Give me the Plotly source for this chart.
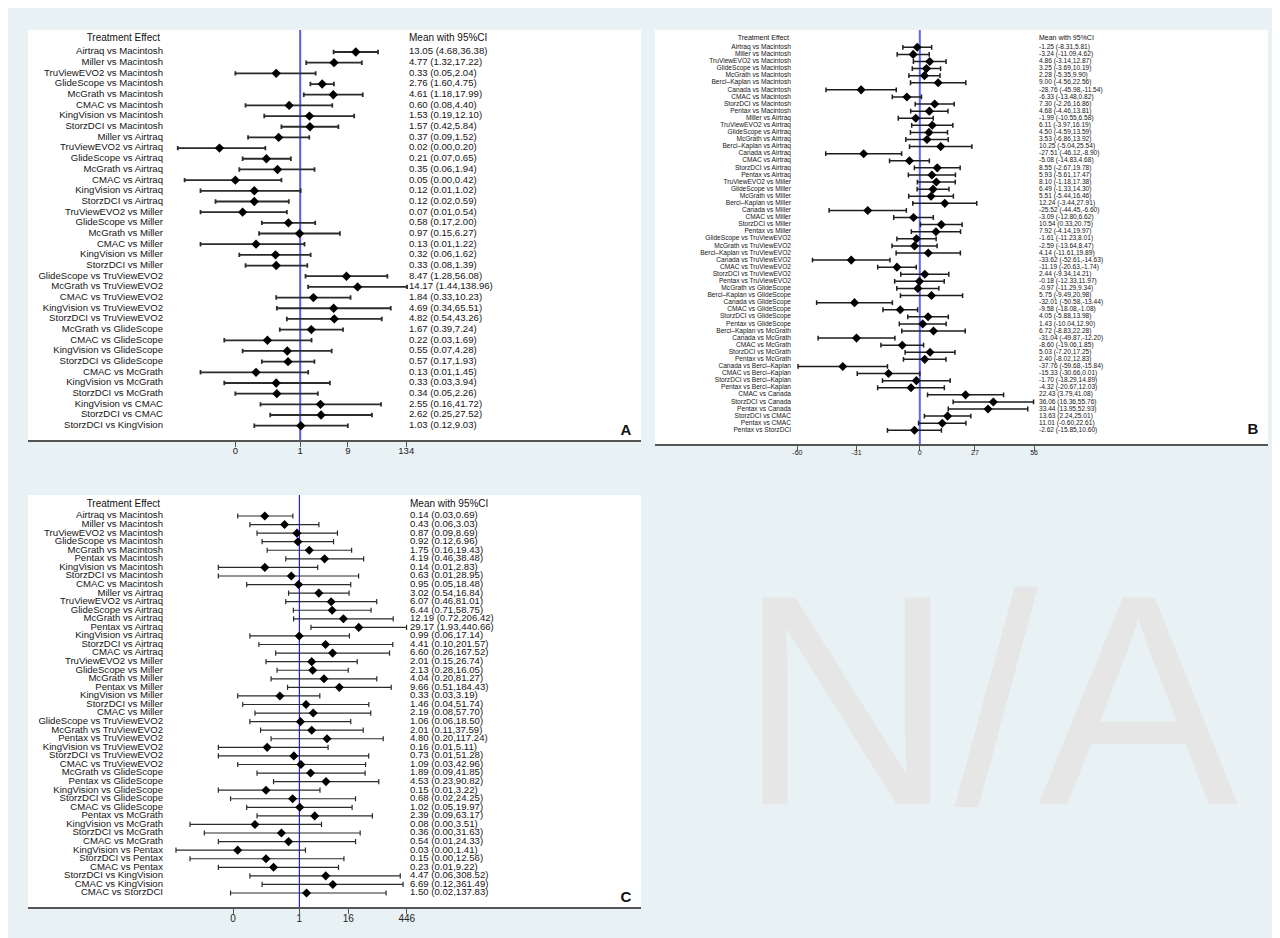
import math
import plotly.graph_objects as go

W, H = 1280, 938
BG = "#E8F1F3"
FONT = "Liberation Sans, Arial, Helvetica, sans-serif"

# ---------------- Panel A (odds ratio, log scale) ----------------
a_labels = ["Airtraq vs Macintosh", "Miller vs Macintosh", "TruViewEVO2 vs Macintosh", "GlideScope vs Macintosh",
            "McGrath vs Macintosh", "CMAC vs Macintosh", "KingVision vs Macintosh", "StorzDCI vs Macintosh",
            "Miller vs Airtraq", "TruViewEVO2 vs Airtraq", "GlideScope vs Airtraq", "McGrath vs Airtraq",
            "CMAC vs Airtraq", "KingVision vs Airtraq", "StorzDCI vs Airtraq", "TruViewEVO2 vs Miller",
            "GlideScope vs Miller", "McGrath vs Miller", "CMAC vs Miller", "KingVision vs Miller",
            "StorzDCI vs Miller", "GlideScope vs TruViewEVO2", "McGrath vs TruViewEVO2", "CMAC vs TruViewEVO2",
            "KingVision vs TruViewEVO2", "StorzDCI vs TruViewEVO2", "McGrath vs GlideScope", "CMAC vs GlideScope",
            "KingVision vs GlideScope", "StorzDCI vs GlideScope", "CMAC vs McGrath", "KingVision vs McGrath",
            "StorzDCI vs McGrath", "KingVision vs CMAC", "StorzDCI vs CMAC", "StorzDCI vs KingVision"]
a_mean = [13.05, 4.77, 0.33, 2.76, 4.61, 0.60, 1.53, 1.57,
          0.37, 0.024, 0.21, 0.35, 0.05, 0.12, 0.12,
          0.07, 0.58, 0.97, 0.13, 0.32, 0.33,
          8.47, 14.17, 1.84, 4.69, 4.82,
          1.67, 0.22, 0.55, 0.57,
          0.13, 0.33, 0.34,
          2.55, 2.62,
          1.03]
a_lo = [4.68, 1.32, 0.05, 1.60, 1.18, 0.08, 0.19, 0.42,
        0.09, 0.0035, 0.07, 0.06, 0.0048, 0.01, 0.02,
        0.01, 0.17, 0.15, 0.01, 0.06, 0.08,
        1.28, 1.44, 0.33, 0.34, 0.54,
        0.39, 0.03, 0.07, 0.17,
        0.01, 0.03, 0.05,
        0.16, 0.25,
        0.12]
a_hi = [36.38, 17.22, 2.04, 4.75, 17.99, 4.40, 12.10, 5.84,
        1.52, 0.20, 0.65, 1.94, 0.42, 1.02, 0.59,
        0.54, 2.00, 6.27, 1.22, 1.62, 1.39,
        56.08, 138.96, 10.23, 65.51, 43.26,
        7.24, 1.69, 4.28, 1.93,
        1.45, 3.94, 2.26,
        41.72, 27.52,
        9.03]
a_ticks = [0.05, 1, 9, 134]
a_ticktext = ["0", "1", "9", "134"]

# ---------------- Panel B (mean difference, linear scale) ----------------
b_labels = ["Airtraq vs Macintosh", "Miller vs Macintosh", "TruViewEVO2 vs Macintosh", "GlideScope vs Macintosh",
            "McGrath vs Macintosh", "Berci–Kaplan vs Macintosh", "Canada vs Macintosh", "CMAC vs Macintosh",
            "StorzDCI vs Macintosh", "Pentax vs Macintosh",
            "Miller vs Airtraq", "TruViewEVO2 vs Airtraq", "GlideScope vs Airtraq", "McGrath vs Airtraq",
            "Berci–Kaplan vs Airtraq", "Canada vs Airtraq", "CMAC vs Airtraq", "StorzDCI vs Airtraq",
            "Pentax vs Airtraq",
            "TruViewEVO2 vs Miller", "GlideScope vs Miller", "McGrath vs Miller", "Berci–Kaplan vs Miller",
            "Canada vs Miller", "CMAC vs Miller", "StorzDCI vs Miller", "Pentax vs Miller",
            "GlideScope vs TruViewEVO2", "McGrath vs TruViewEVO2", "Berci–Kaplan vs TruViewEVO2",
            "Canada vs TruViewEVO2", "CMAC vs TruViewEVO2", "StorzDCI vs TruViewEVO2", "Pentax vs TruViewEVO2",
            "McGrath vs GlideScope", "Berci–Kaplan vs GlideScope", "Canada vs GlideScope", "CMAC vs GlideScope",
            "StorzDCI vs GlideScope", "Pentax vs GlideScope",
            "Berci–Kaplan vs McGrath", "Canada vs McGrath", "CMAC vs McGrath", "StorzDCI vs McGrath",
            "Pentax vs McGrath",
            "Canada vs Berci–Kaplan", "CMAC vs Berci–Kaplan", "StorzDCI vs Berci–Kaplan", "Pentax vs Berci–Kaplan",
            "CMAC vs Canada", "StorzDCI vs Canada", "Pentax vs Canada",
            "StorzDCI vs CMAC", "Pentax vs CMAC",
            "Pentax vs StorzDCI"]
b_mean = [-1.25, -3.24, 4.86, 3.25, 2.28, 9.00, -28.76, -6.33, 7.30, 4.68,
          -1.99, 6.11, 4.50, 3.53, 10.25, -27.51, -5.08, 8.55, 5.93,
          8.10, 6.49, 5.51, 12.24, -25.52, -3.09, 10.54, 7.92,
          -1.61, -2.59, 4.14, -33.62, -11.19, 2.44, -0.18,
          -0.97, 5.75, -32.01, -9.58, 4.05, 1.43,
          6.72, -31.04, -8.60, 5.03, 2.40,
          -37.76, -15.33, -1.70, -4.32,
          22.43, 36.06, 33.44,
          13.63, 11.01,
          -2.62]
b_lo = [-8.31, -11.09, -3.14, -3.69, -5.35, -4.56, -45.98, -13.48, -2.26, -4.46,
        -10.55, -3.97, -4.59, -6.86, -5.04, -46.12, -14.83, -2.67, -5.61,
        -1.18, -1.33, -5.44, -3.44, -44.45, -12.80, 0.33, -4.14,
        -11.23, -13.64, -11.61, -52.61, -20.63, -9.34, -12.33,
        -11.29, -9.49, -50.58, -18.08, -5.88, -10.04,
        -8.83, -49.87, -19.06, -7.20, -8.02,
        -59.68, -30.66, -18.29, -20.67,
        3.79, 16.36, 13.95,
        2.24, -0.60,
        -15.85]
b_hi = [5.81, 4.62, 12.87, 10.19, 9.90, 22.56, -11.54, 0.82, 16.86, 13.81,
        6.58, 16.19, 13.59, 13.92, 25.54, -8.90, 4.68, 19.78, 17.47,
        17.38, 14.30, 16.46, 27.91, -6.60, 6.62, 20.75, 19.97,
        8.01, 8.47, 19.89, -14.63, -1.74, 14.21, 11.97,
        9.34, 20.98, -13.44, -1.08, 13.98, 12.90,
        22.28, -12.20, 1.85, 17.25, 12.83,
        -15.84, 0.01, 14.89, 12.03,
        41.08, 55.76, 52.93,
        25.01, 22.61,
        10.60]
b_ticks = [-60, -31, 0, 27, 56]
b_ticktext = ["-60", "-31", "0", "27", "56"]

# ---------------- Panel C (odds ratio, log scale) ----------------
c_labels = ["Airtraq vs Macintosh", "Miller vs Macintosh", "TruViewEVO2 vs Macintosh", "GlideScope vs Macintosh",
            "McGrath vs Macintosh", "Pentax vs Macintosh", "KingVision vs Macintosh", "StorzDCI vs Macintosh",
            "CMAC vs Macintosh",
            "Miller vs Airtraq", "TruViewEVO2 vs Airtraq", "GlideScope vs Airtraq", "McGrath vs Airtraq",
            "Pentax vs Airtraq", "KingVision vs Airtraq", "StorzDCI vs Airtraq", "CMAC vs Airtraq",
            "TruViewEVO2 vs Miller", "GlideScope vs Miller", "McGrath vs Miller", "Pentax vs Miller",
            "KingVision vs Miller", "StorzDCI vs Miller", "CMAC vs Miller",
            "GlideScope vs TruViewEVO2", "McGrath vs TruViewEVO2", "Pentax vs TruViewEVO2",
            "KingVision vs TruViewEVO2", "StorzDCI vs TruViewEVO2", "CMAC vs TruViewEVO2",
            "McGrath vs GlideScope", "Pentax vs GlideScope", "KingVision vs GlideScope", "StorzDCI vs GlideScope",
            "CMAC vs GlideScope",
            "Pentax vs McGrath", "KingVision vs McGrath", "StorzDCI vs McGrath", "CMAC vs McGrath",
            "KingVision vs Pentax", "StorzDCI vs Pentax", "CMAC vs Pentax",
            "StorzDCI vs KingVision", "CMAC vs KingVision",
            "CMAC vs StorzDCI"]
c_mean = [0.14, 0.43, 0.87, 0.92, 1.75, 4.19, 0.14, 0.63, 0.95,
          3.02, 6.07, 6.44, 12.19, 29.17, 0.99, 4.41, 6.60,
          2.01, 2.13, 4.04, 9.66, 0.33, 1.46, 2.19,
          1.06, 2.01, 4.80, 0.16, 0.73, 1.09,
          1.89, 4.53, 0.15, 0.68, 1.02,
          2.39, 0.08, 0.36, 0.54,
          0.03, 0.15, 0.23,
          4.47, 6.69,
          1.50]
c_lo = [0.03, 0.06, 0.09, 0.12, 0.16, 0.46, 0.01, 0.01, 0.05,
        0.54, 0.46, 0.71, 0.72, 1.93, 0.06, 0.10, 0.26,
        0.15, 0.28, 0.20, 0.51, 0.03, 0.04, 0.08,
        0.06, 0.11, 0.20, 0.01, 0.01, 0.03,
        0.09, 0.23, 0.01, 0.02, 0.05,
        0.09, 0.002, 0.0045, 0.01,
        0.0009, 0.002, 0.01,
        0.06, 0.12,
        0.02]
c_hi = [0.69, 3.03, 8.69, 6.96, 19.43, 38.48, 2.83, 28.95, 18.48,
        16.84, 81.01, 58.75, 206.42, 440.66, 17.14, 201.57, 167.52,
        26.74, 16.05, 81.27, 184.43, 3.19, 51.74, 57.70,
        18.50, 37.59, 117.24, 5.11, 51.28, 42.96,
        41.85, 90.82, 3.22, 24.25, 19.97,
        63.17, 3.51, 31.63, 24.33,
        1.41, 12.56, 9.22,
        308.52, 361.49,
        137.83]
c_ticks = [0.023, 1, 16, 446]
c_ticktext = ["0", "1", "16", "446"]

header_left = "Treatment Effect"
header_right = "Mean with 95%CI"

# ---------------- layout / style per panel (pixel geometry) ----------------
panels = [
    dict(letter="A", labels=a_labels, mean=a_mean, lo=a_lo, hi=a_hi, ticks=a_ticks, ticktext=a_ticktext,
         log=True, null=1, L=20, R=633, T=22, B=432, y0=44, y1=417.7, hdr=30.7,
         ref_px=292.2, k=21.65, lab_r=155, hdr_r=152, val_l=401, lab_size=9.6, hdr_size=10, tick_size=9.5,
         let_x=618, let_y=423, ref_color="#5A5AF2", ref_w=2, eb_color="#2b2b2b", eb_w=1.8, cap=2.2,
         msize=7.2),
    dict(letter="B", labels=b_labels, mean=b_mean, lo=b_lo, hi=b_hi, ticks=b_ticks, ticktext=b_ticktext,
         log=False, null=0, L=647, R=1260, T=22, B=436, y0=39.3, y1=422.3, hdr=30.7,
         ref_px=911.8, k=2.04, lab_r=783, hdr_r=781, val_l=1031, lab_size=6.6, hdr_size=7, tick_size=7,
         let_x=1245, let_y=422, ref_color="#6464F5", ref_w=2, eb_color="#1e1e1e", eb_w=1.5, cap=2.4,
         msize=7),
    dict(letter="C", labels=c_labels, mean=c_mean, lo=c_lo, hi=c_hi, ticks=c_ticks, ticktext=c_ticktext,
         log=True, null=1, L=20, R=633, T=487, B=899, y0=508, y1=885, hdr=496.7,
         ref_px=291.4, k=17.6, lab_r=155, hdr_r=152, val_l=402, lab_size=9.6, hdr_size=10, tick_size=10,
         let_x=618, let_y=890, ref_color="#2020FF", ref_w=1.2, eb_color="#2b2b2b", eb_w=1.2, cap=2.6,
         msize=7),
]

fig = go.Figure()
shapes = []
layout_axes = {}

for i, p in enumerate(panels):
    n = i + 1
    sfx = "" if n == 1 else str(n)
    xid, yid, oid = "x" + sfx, "y" + sfx, "x" + str(n + 3)
    nrows = len(p["labels"])
    rows = list(range(nrows))
    dy = (p["y1"] - p["y0"]) / (nrows - 1)
    ytop = (p["T"] - p["y0"]) / dy
    ybot = (p["B"] - p["y0"]) / dy

    def ypx(py):
        return (py - p["y0"]) / dy

    if p["log"]:
        ppl = p["k"] * math.log(10)
        xr = [(p["L"] - p["ref_px"]) / ppl, (p["R"] - p["ref_px"]) / ppl]
    else:
        xr = [(p["L"] - p["ref_px"]) / p["k"], (p["R"] - p["ref_px"]) / p["k"]]

    # white panel
    shapes.append(dict(type="rect", xref="paper", yref="paper", layer="below",
                       x0=p["L"] / W, x1=p["R"] / W, y0=1 - p["B"] / H, y1=1 - p["T"] / H,
                       fillcolor="white", line=dict(width=0)))

    layout_axes["xaxis" + sfx] = dict(
        domain=[p["L"] / W, p["R"] / W], anchor=yid, type="log" if p["log"] else "linear",
        range=xr, showgrid=False, zeroline=False, showline=True, linecolor="#555555", linewidth=1.5,
        ticks="outside", ticklen=5, tickwidth=1, tickcolor="#555555", ticklabelstandoff=-4,
        tickvals=p["ticks"], ticktext=p["ticktext"],
        tickfont=dict(family=FONT, size=p["tick_size"], color="#222222"), fixedrange=True)
    layout_axes["yaxis" + sfx] = dict(
        domain=[1 - p["B"] / H, 1 - p["T"] / H], anchor=xid, range=[ybot, ytop],
        visible=False, showgrid=False, zeroline=False, fixedrange=True)
    layout_axes["xaxis" + str(n + 3)] = dict(
        overlaying=xid, anchor=yid, range=[p["L"], p["R"]], visible=False, fixedrange=True)

    # reference (null effect) line
    fig.add_trace(go.Scatter(x=[p["null"], p["null"]], y=[ybot, ytop], mode="lines",
                             line=dict(color=p["ref_color"], width=p["ref_w"]),
                             xaxis=xid, yaxis=yid, hoverinfo="skip", showlegend=False))
    # estimates with CI
    fig.add_trace(go.Scatter(
        x=p["mean"], y=rows, mode="markers",
        marker=dict(symbol="diamond", size=p["msize"], color="black"),
        error_x=dict(type="data", symmetric=False,
                     array=[h - m for m, h in zip(p["mean"], p["hi"])],
                     arrayminus=[m - l for m, l in zip(p["mean"], p["lo"])],
                     color=p["eb_color"], thickness=p["eb_w"], width=p["cap"]),
        xaxis=xid, yaxis=yid, showlegend=False))

    values = [f"{m:.2f} ({l:.2f},{h:.2f})" for m, l, h in zip(p["mean"], p["lo"], p["hi"])]
    tf = dict(family=FONT, size=p["lab_size"], color="#151515")
    fig.add_trace(go.Scatter(x=[p["lab_r"]] * nrows, y=rows, text=p["labels"], mode="text",
                             textposition="middle left", textfont=tf, cliponaxis=False,
                             xaxis=oid, yaxis=yid, hoverinfo="skip", showlegend=False))
    fig.add_trace(go.Scatter(x=[p["val_l"]] * nrows, y=rows, text=values, mode="text",
                             textposition="middle right", textfont=tf, cliponaxis=False,
                             xaxis=oid, yaxis=yid, hoverinfo="skip", showlegend=False))
    fig.add_trace(go.Scatter(x=[p["hdr_r"], p["val_l"]], y=[ypx(p["hdr"])] * 2,
                             text=[header_left, header_right], mode="text",
                             textposition=["middle left", "middle right"],
                             textfont=dict(family=FONT, size=p["hdr_size"], color="#111111"),
                             cliponaxis=False, xaxis=oid, yaxis=yid, hoverinfo="skip", showlegend=False))
    fig.add_trace(go.Scatter(x=[p["let_x"]], y=[ypx(p["let_y"])], text=["<b>" + p["letter"] + "</b>"],
                             mode="text", textposition="middle center",
                             textfont=dict(family=FONT, size=15, color="#111111"),
                             cliponaxis=False, xaxis=oid, yaxis=yid, hoverinfo="skip", showlegend=False))

fig.update_layout(
    width=W, height=H, margin=dict(l=0, r=0, t=0, b=0),
    paper_bgcolor=BG, plot_bgcolor="white", showlegend=False,
    shapes=shapes,
    annotations=[dict(text="N/A", xref="paper", yref="paper", x=981 / W, y=1 - 692 / H,
                      xanchor="center", yanchor="middle", showarrow=False,
                      font=dict(family=FONT, size=300, color="#E6E6E6"))],
    **layout_axes)

fig.write_html("out.html")
